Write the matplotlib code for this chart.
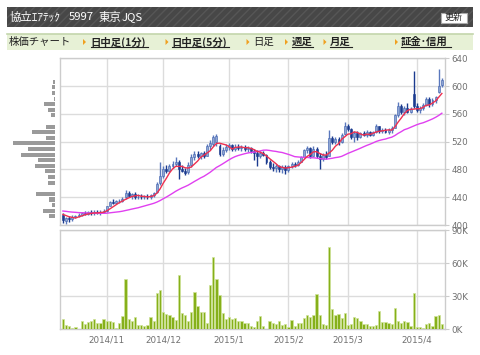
import matplotlib
matplotlib.use('Agg')
import matplotlib.pyplot as plt
import numpy as np
import pandas as pd
from matplotlib.patches import Rectangle, Polygon

plt.rcParams['font.family'] = ['DejaVu Sans', 'Noto Sans CJK JP']
plt.rcParams['hatch.linewidth'] = 1.0

# ---------------- data ----------------
title_parts = ["協立ｴｱﾃｯｸ", "5997", "東京", "JQS"]
nav_label = "株価チャート"
nav_links = ["日中足(1分)", "日中足(5分)", "日足", "週足", "月足", "証金･信用"]
nav_bold = [True, True, False, True, True, True]

month_labels = ["2014/11", "2014/12", "2015/1", "2015/2", "2015/3", "2015/4"]
month_start_idx = [14, 32, 53, 72, 91, 113]

opens = [414, 406, 410, 408, 412, 413, 415, 417, 416, 418, 417, 419, 417, 419, 420,
         428, 433, 432, 434, 435, 440, 446, 442, 444, 440, 441, 440, 441, 440, 443,
         447, 460, 471, 481, 478, 485, 488, 490, 481, 478, 476, 486, 498, 502, 499,
         503, 500, 514, 516, 520, 514, 502, 508, 512, 515, 510, 513, 511, 513, 509,
         511, 507, 503, 500, 503, 501, 490, 484, 482, 485, 480, 484, 479, 485, 488,
         486, 491, 498, 508, 511, 500, 510, 499, 495, 501, 500, 525, 519, 524, 520,
         531, 543, 538, 527, 532, 527, 532, 530, 534, 530, 534, 542, 535, 537, 534,
         537, 540, 558, 571, 563, 569, 563, 589, 572, 566, 569, 573, 582, 574, 580,
         591, 601]
highs = [417, 412, 413, 414, 415, 417, 419, 420, 420, 421, 422, 421, 421, 423, 428,
         435, 437, 436, 438, 440, 450, 449, 446, 447, 444, 444, 443, 444, 445, 447,
         462, 490, 485, 486, 488, 492, 498, 493, 486, 482, 490, 502, 506, 506, 505,
         506, 517, 522, 530, 531, 516, 512, 517, 518, 517, 516, 516, 515, 515, 514,
         513, 510, 508, 506, 507, 502, 494, 489, 488, 487, 486, 487, 487, 490, 491,
         493, 500, 510, 514, 512, 514, 512, 504, 503, 507, 537, 528, 526, 526, 532,
         549, 546, 540, 535, 535, 534, 535, 537, 536, 536, 545, 543, 539, 539, 539,
         542, 560, 577, 574, 572, 575, 570, 621, 575, 571, 576, 585, 584, 583, 586,
         625, 611]
lows = [403, 402, 405, 406, 410, 412, 413, 414, 414, 415, 415, 416, 415, 417, 419,
        427, 430, 430, 431, 433, 438, 440, 438, 437, 437, 438, 437, 438, 438, 440,
        446, 458, 468, 475, 476, 482, 485, 466, 476, 472, 474, 484, 494, 496, 495,
        497, 499, 508, 514, 514, 500, 499, 505, 508, 507, 506, 508, 507, 506, 505,
        504, 494, 485, 497, 499, 488, 480, 478, 477, 476, 475, 474, 477, 482, 484,
        485, 490, 497, 503, 497, 499, 496, 480, 492, 495, 499, 516, 517, 515, 518,
        530, 536, 524, 520, 522, 525, 528, 527, 528, 528, 533, 532, 532, 532, 531,
        533, 539, 556, 560, 559, 561, 561, 568, 563, 561, 565, 571, 570, 572, 576,
        590, 598]
closes = [407, 410, 408, 412, 413, 415, 417, 416, 418, 417, 419, 417, 419, 420, 427,
          433, 432, 434, 435, 438, 446, 442, 444, 440, 441, 440, 441, 440, 443, 446,
          459, 471, 481, 478, 485, 488, 490, 481, 478, 475, 486, 498, 502, 499, 503,
          500, 514, 518, 527, 528, 502, 508, 512, 515, 510, 513, 511, 513, 509, 511,
          507, 503, 500, 503, 501, 490, 484, 482, 485, 480, 484, 479, 485, 488, 486,
          491, 498, 508, 511, 500, 510, 499, 495, 501, 498, 525, 519, 524, 519, 530,
          543, 538, 527, 532, 526, 532, 530, 534, 530, 534, 542, 535, 537, 534, 537,
          540, 558, 571, 563, 569, 563, 567, 572, 566, 569, 573, 582, 574, 580, 584,
          600, 609]
# closes before the visible window (needed for the moving averages at the left edge)
prior_closes = [422, 424, 423, 421, 425, 422, 420, 423, 421, 419, 422, 420, 421, 423,
                420, 418, 421, 422, 419, 421, 418, 417, 416, 418]

volume_k = [9.4, 4.2, 2.7, 1.2, 2.1, 0.3, 7.3, 4.8, 6.3, 7.9, 9.4, 5.7, 5.7, 9.1, 7.9,
            7.3, 6.6, 1.2, 5.7, 12.0, 45.6, 9.7, 7.9, 11.5, 3.9, 3.6, 3.3, 3.6, 10.9, 7.3,
            33.0, 35.6, 15.4, 13.9, 12.7, 11.5, 8.5, 49.0, 14.8, 12.7, 7.3, 15.4, 33.8, 21.5, 15.7,
            15.7, 5.7, 39.9, 65.3, 45.6, 31.4, 14.8, 9.7, 11.5, 9.7, 10.3, 7.3, 7.3, 5.7, 5.7,
            3.0, 1.8, 7.6, 11.8, 3.0, 0.6, 7.3, 6.0, 4.8, 7.3, 3.6, 5.1, 2.1, 8.5, 3.0,
            5.4, 5.4, 10.3, 13.3, 10.9, 12.7, 32.0, 13.3, 5.1, 4.2, 74.3, 18.4, 13.3, 13.9, 10.3,
            15.1, 3.9, 4.8, 10.9, 10.3, 7.6, 5.1, 5.1, 3.0, 3.3, 3.9, 16.3, 6.6, 6.3, 5.4,
            4.8, 19.0, 7.6, 5.7, 7.6, 6.3, 2.7, 32.6, 1.8, 2.1, 1.5, 4.5, 5.4, 3.3, 11.8,
            13.3, 4.5]

# volume-by-price profile (left side)
vbp_price = [412.5, 420.6, 428.7, 436.7, 444.8, 452.9, 460.9, 469.0, 477.1, 485.1,
             493.2, 501.3, 509.3, 517.4, 525.5, 533.5, 541.6, 549.7, 557.8, 565.8,
             573.9, 582.0, 590.0, 598.1, 606.2]
vbp_size = [5.7, 11.7, 3.3, 6.0, 19.3, 0.0, 7.0, 7.3, 9.7, 20.0,
            16.7, 34.3, 27.3, 41.7, 9.0, 22.7, 9.0, 0.0, 4.3, 6.7,
            10.7, 1.0, 2.7, 2.7, 1.7]

price_ticks = [400, 440, 480, 520, 560, 600, 640]
vol_ticks = [0, 30, 60, 90]
vol_tick_labels = ["0K", "30K", "60K", "90K"]

# ---------------- figure ----------------
W, H = 480, 355
fig = plt.figure(figsize=(W / 100, H / 100), dpi=100)
fig.patch.set_facecolor('white')

def fx(x):
    return x / W

def fy(y):
    return 1 - y / H

JP = ['Noto Sans CJK JP', 'DejaVu Sans']

# overlay for header
ov = fig.add_axes([0, 0, 1, 1])
ov.set_xlim(0, W)
ov.set_ylim(H, 0)
ov.axis('off')
ov.patch.set_alpha(0)

ov.add_patch(Rectangle((7, 7), 466, 20, facecolor='#474747', edgecolor='#565656',
                       hatch='////', linewidth=0))
for px_, part in zip([10, 69, 99, 122], title_parts):
    ov.text(px_, 17.5, part, color='white', fontsize=8.2, va='center', ha='left', family=JP)
ov.add_patch(Rectangle((441, 12.5), 26, 10.5, facecolor='white', edgecolor='#aaaaaa', linewidth=0.8))
ov.text(454, 17.8, "更新", color='#222222', fontsize=6.5, va='center', ha='center', family=JP)

ov.add_patch(Rectangle((7, 33.5), 466, 16, facecolor='#e7f1d6', edgecolor='none'))
ov.plot([7, 473], [33.5, 33.5], color='#c3d6ac', lw=1.2)
ov.text(9, 42, nav_label, color='#222222', fontsize=7.5, va='center', ha='left', family=JP)
tri_x = [83, 165.5, 246.5, 285, 323.5, 395]
txt_x = [90.5, 171.5, 253, 291.5, 330, 401]
txt_w = [57.5, 57.5, 20, 21.5, 22, 50]
for tx, sx, lab, w, b in zip(tri_x, txt_x, nav_links, txt_w, nav_bold):
    ov.add_patch(Polygon([[tx, 39], [tx, 45], [tx + 3, 42]], closed=True,
                         facecolor='#f0a020', edgecolor='none'))
    ov.text(sx, 42, lab, color='#222222', fontsize=7.5, va='center', ha='left', family=JP,
            fontweight='bold' if b else 'normal')
    if b:
        ov.plot([sx, sx + w], [47.3, 47.3], color='#222222', lw=0.8)

# axes geometry
L, R = 60, 445
P_TOP, P_BOT = 58.3, 225.0
V_TOP, V_BOT = 230.0, 329.3
ax = fig.add_axes([fx(L), fy(P_BOT), (R - L) / W, (P_BOT - P_TOP) / H])
axv = fig.add_axes([fx(L), fy(V_BOT), (R - L) / W, (V_BOT - V_TOP) / H])
axh = fig.add_axes([fx(5), fy(P_BOT), 50 / W, (P_BOT - P_TOP) / H])

n = len(closes)
x = np.arange(n)
o = np.array(opens, float)
c = np.array(closes, float)
hi = np.array(highs, float)
lo = np.array(lows, float)

grid_c = '#dcdcdc'
spine_c = '#cccccc'
label_c = '#707070'

for a in (ax, axv):
    a.set_xlim(-0.93, 122.0)
    for s in a.spines.values():
        s.set_color(spine_c)
        s.set_linewidth(1)
    a.set_xticks(month_start_idx)
    a.grid(True, color=grid_c, lw=1)
    a.set_axisbelow(True)
    a.yaxis.tick_right()
    a.tick_params(axis='y', direction='out', length=3, color=spine_c, pad=1.5,
                  labelsize=6.3, labelcolor=label_c)

# price panel
ax.set_ylim(400, 640)
ax.set_yticks(price_ticks)
ax.tick_params(axis='x', length=0, labelbottom=False)

up = c >= o
dn = ~up
up_face, up_edge = '#8fa6d2', '#3d5fae'
dn_face = '#1b3b8f'
ax.vlines(x[up], lo[up], hi[up], color='#5a78bd', lw=1, zorder=2)
ax.vlines(x[dn], lo[dn], hi[dn], color=dn_face, lw=1, zorder=2)
body_lo = np.minimum(o, c)
body_h = np.maximum(np.abs(c - o), 0.9)
ax.bar(x[up], body_h[up], bottom=body_lo[up], width=0.62, color=up_face,
       edgecolor=up_edge, linewidth=0.4, zorder=3)
ax.bar(x[dn], body_h[dn], bottom=body_lo[dn], width=0.62, color=dn_face,
       edgecolor=dn_face, linewidth=0.4, zorder=3)

allc = pd.Series(prior_closes + closes, dtype=float)
ma5 = allc.rolling(5).mean().to_numpy()[-n:]
ma25 = allc.rolling(25).mean().to_numpy()[-n:]
ax.plot(x, ma25, color='#e040f0', lw=1.0, zorder=4)
ax.plot(x, ma5, color='#ee3050', lw=1.0, zorder=4)

# volume panel
axv.set_ylim(0, 90)
axv.set_yticks(vol_ticks)
axv.set_yticklabels(vol_tick_labels)
axv.set_xticklabels(month_labels)
axv.tick_params(axis='x', length=0, pad=4.5, labelsize=6.3, labelcolor=label_c)
axv.bar(x, volume_k, width=0.72, color='#86b01a', edgecolor='#cfe39a', linewidth=0.5, zorder=3)

# volume-by-price
axh.barh(vbp_price, vbp_size, height=5.8, color='#9a9a9a', edgecolor='none')
axh.set_xlim(50, 0)
axh.set_ylim(400, 640)
axh.axis('off')

fig.savefig('out.png', dpi=100, facecolor='white')
